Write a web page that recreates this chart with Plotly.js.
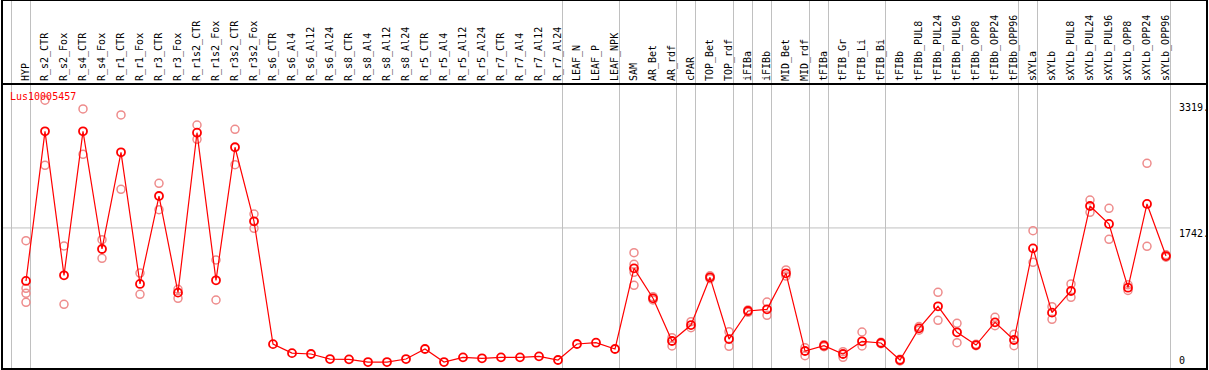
<!DOCTYPE html>
<html>
<head>
<meta charset="utf-8">
<script src="https://cdn.plot.ly/plotly-3.0.1.min.js"></script>
<style>
  html, body { margin: 0; padding: 0; background: #fff; }
  #chart { width: 1209px; height: 370px; }
</style>
</head>
<body>
<div id="chart"></div>
<script>
// ---- data ----
var categories = ["HYP","R_s2_CTR","R_s2_Fox","R_s4_CTR","R_s4_Fox","R_r1_CTR","R_r1_Fox","R_r3_CTR","R_r3_Fox",
  "R_r1s2_CTR","R_r1s2_Fox","R_r3s2_CTR","R_r3s2_Fox","R_s6_CTR","R_s6_Al4","R_s6_Al12","R_s6_Al24",
  "R_s8_CTR","R_s8_Al4","R_s8_Al12","R_s8_Al24","R_r5_CTR","R_r5_Al4","R_r5_Al12","R_r5_Al24",
  "R_r7_CTR","R_r7_Al4","R_r7_Al12","R_r7_Al24","LEAF_N","LEAF_P","LEAF_NPK","SAM","AR_Bet","AR_rdf",
  "cPAR","TOP_Bet","TOP_rdf","iFIBa","iFIBb","MID_Bet","MID_rdf","tFIBa","tFIB_Gr","tFIB_Li","tFIB_Bi",
  "tFIBb","tFIBb_PUL8","tFIBb_PUL24","tFIBb_PUL96","tFIBb_OPP8","tFIBb_OPP24","tFIBb_OPP96",
  "sXYLa","sXYLb","sXYLb_PUL8","sXYLb_PUL24","sXYLb_PUL96","sXYLb_OPP8","sXYLb_OPP24","sXYLb_OPP96"];

var meanValues = [1087,2935,1157,2935,1482,2676,1050,2136,943,2918,1095,2738,1824,307,196,185,123,119,86,86,
  123,247,86,144,132,144,144,156,111,309,325,247,1243,873,346,543,1132,370,716,737,1182,222,288,185,342,321,
  111,502,774,453,296,576,358,1490,696,963,2013,1791,1004,2038,1395];

var rep1 = [1585,3319,1519,3211,1597,3137,1185,2293,984,3013,1346,2960,1914,null,null,null,null,null,null,null,
  null,null,null,null,null,null,null,null,null,null,null,null,1436,893,387,584,1150,461,730,827,1223,263,300,214,457,330,
  120,525,947,564,305,638,428,1708,770,1050,2087,1984,1040,2540,1410];
var rep2 = [996,2515,799,2651,1367,2219,922,1968,873,2836,852,2523,1737,null,null,null,null,null,null,null,
  null,null,null,null,null,null,null,null,null,null,null,null,1293,852,284,510,1115,280,700,663,1148,164,276,144,284,312,
  100,480,601,325,287,535,288,1317,613,885,1935,1601,970,1515,1380];
var rep3 = [935,null,null,null,null,null,null,null,null,null,null,null,null,null,null,null,null,null,null,null,
  null,null,null,null,null,null,null,null,null,null,null,null,1194,null,null,null,null,null,null,null,null,null,null,null,null,null,
  null,null,null,null,null,null,null,null,null,null,null,null,null,null,null];
var rep4 = [823,null,null,null,null,null,null,null,null,null,null,null,null,null,null,null,null,null,null,null,
  null,null,null,null,null,null,null,null,null,null,null,null,1034,null,null,null,null,null,null,null,null,null,null,null,null,null,
  null,null,null,null,null,null,null,null,null,null,null,null,null,null,null];

var geneName = "Lus10005457";
var yTickVals = [0, 1742, 3319];
var yTickText = ["0", "1742.", "3319."];
// category index after which a group separator line is drawn (-1 = before first)
var groupEnds = [-1, 0, 28, 31, 34, 35, 37, 38, 39, 41, 42, 45, 52, 53, 60];

// ---- build ----
var idx = categories.map(function (_, i) { return i; });
var repX = [], repY = [];
[rep1, rep2, rep3, rep4].forEach(function (arr) {
  arr.forEach(function (v, i) { if (v !== null) { repX.push(i); repY.push(v); } });
});

var mono = "DejaVu Sans Mono, Liberation Mono, monospace";

var traces = [
  {
    x: repX, y: repY, type: "scatter", mode: "markers", hoverinfo: "skip",
    marker: { symbol: "circle-open", size: 8, color: "rgb(238,140,140)", line: { width: 1.5, color: "rgb(238,140,140)" } }
  },
  {
    x: idx, y: meanValues, type: "scatter", mode: "lines+markers", hoverinfo: "skip",
    line: { color: "#ff0000", width: 1.2 },
    marker: { symbol: "circle-open", size: 8, color: "#ff0000", line: { width: 1.8, color: "#ff0000" } }
  }
];

var topPx = 85, plotH = 284;
var paperTop = (plotH + topPx) / plotH;
var shapes = [];
groupEnds.forEach(function (g) {
  shapes.push({ type: "line", xref: "x", yref: "paper", x0: g + 0.237, x1: g + 0.237, y0: 0, y1: paperTop,
    line: { color: "#c0c0c0", width: 1 }, layer: "below" });
});
shapes.push({ type: "line", xref: "x", yref: "y", x0: -1.263, x1: 60.237, y0: yTickVals[1], y1: yTickVals[1],
  line: { color: "#c0c0c0", width: 1 }, layer: "below" });
shapes.push({ type: "rect", xref: "paper", yref: "paper", x0: 0, x1: 1, y0: 0, y1: paperTop,
  line: { color: "#000", width: 2 } });

var annotations = [
  { text: geneName, xref: "paper", yref: "paper", x: 0.005, y: (369 - 96.7) / plotH, xanchor: "left", yanchor: "middle",
    showarrow: false, font: { family: mono, size: 10, color: "#ff0000" } },
  { text: yTickText[2], xref: "paper", yref: "y", x: 0.9755, y: yTickVals[2], xanchor: "left", yanchor: "top",
    showarrow: false, font: { family: mono, size: 10, color: "#000" } },
  { text: yTickText[1], xref: "paper", yref: "y", x: 0.9755, y: yTickVals[1], xanchor: "left", yanchor: "top", yshift: 2,
    showarrow: false, font: { family: mono, size: 10, color: "#000" } },
  { text: yTickText[0], xref: "paper", yref: "y", x: 0.9755, y: yTickVals[0], xanchor: "left", yanchor: "bottom", yshift: 1,
    showarrow: false, font: { family: mono, size: 10, color: "#000" } }
];

var layout = {
  width: 1209, height: 370,
  margin: { l: 2, r: 2, t: topPx, b: 1, pad: 0 },
  paper_bgcolor: "#fff", plot_bgcolor: "#fff",
  showlegend: false,
  xaxis: {
    side: "top", range: [-1.263, 62.158], tickmode: "array", tickvals: idx, ticktext: categories,
    tickangle: -90, ticks: "", showgrid: false, zeroline: false,
    showline: true, linecolor: "#000", linewidth: 2,
    tickfont: { family: mono, size: 10, color: "#000" }
  },
  yaxis: {
    range: [0, 3507], showticklabels: false, ticks: "", showgrid: false, zeroline: false, showline: false
  },
  shapes: shapes,
  annotations: annotations
};

Plotly.newPlot("chart", traces, layout, { displayModeBar: false, staticPlot: true });
</script>
</body>
</html>
